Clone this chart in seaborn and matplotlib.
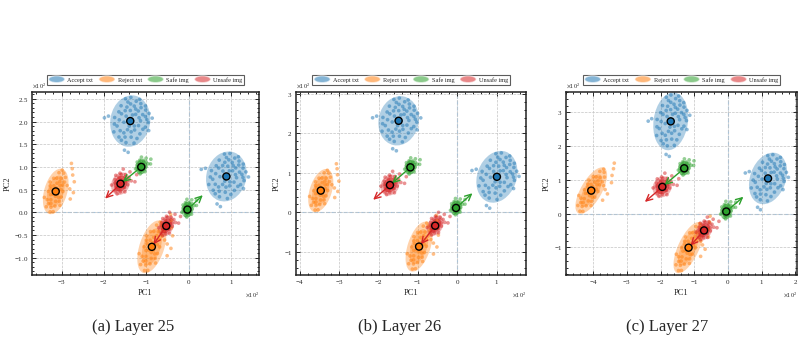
import numpy as np
import pandas as pd
import matplotlib
matplotlib.use("Agg")
import matplotlib.pyplot as plt
import seaborn as sns
from matplotlib.patches import Ellipse, Patch
from matplotlib.legend_handler import HandlerPatch
from matplotlib.transforms import Affine2D
from matplotlib.ticker import MultipleLocator, AutoMinorLocator, ScalarFormatter

# GROUPS / COLOURS
groups = ["Accept txt", "Reject txt", "Safe img", "Unsafe img"]
colors = {"Accept txt": "#1f77b4", "Reject txt": "#ff7f0e",
          "Safe img": "#2ca02c", "Unsafe img": "#d62728"}

# 8 clusters per layer: two of each group
cluster_group = ["Accept txt", "Accept txt", "Reject txt", "Reject txt",
                 "Safe img", "Unsafe img", "Safe img", "Unsafe img"]

captions = ["(a) Layer 25", "(b) Layer 26", "(c) Layer 27"]

# centroids (PC units, raw)
cent_x_25 = [-138, 89, -314, -87, -112, -161, -3, -53]
cent_y_25 = [201, 79, 46, -76, 100, 63, 6, -30]
cent_x_26 = [-149, 101, -347, -97, -119, -171, -3, -56]
cent_y_26 = [232, 90, 55, -87, 114, 69, 11, -34]
cent_x_27 = [-170, 119, -406, -117, -130, -195, -5, -71]
cent_y_27 = [273, 104, 68, -101, 134, 79, 6, -50]

# spread ellipses: width, height, angle
ell_w_25 = [94, 94, 54, 58, 28, 42, 28, 34]
ell_h_25 = [114, 112, 104, 122, 34, 52, 36, 50]
ell_a_25 = [-12, -20, -18, -20, -20, -30, -15, -30]
ell_w_26 = [102, 100, 56, 58, 30, 46, 30, 38]
ell_h_26 = [126, 135, 114, 132, 38, 56, 38, 56]
ell_a_26 = [-12, -20, -18, -18, -20, -30, -15, -30]
ell_w_27 = [102, 106, 62, 62, 36, 55, 36, 45]
ell_h_27 = [172, 158, 155, 165, 44, 65, 48, 65]
ell_a_27 = [-8, -20, -30, -25, -20, -30, -15, -30]

# steering arrows (start -> tip)
arrow_tip_25 = [(-202, 26), (38, 42)]
arrow_tip_26 = [(-219, 27), (44, 53)]
arrow_tip_27 = [(-253, 29), (52, 55)]

# axis limits
xlims = [(-370, 166), (-410, 175), (-481, 205)]
ylims = [(-138, 265), (-159, 305), (-182, 360)]
ysteps = [50, 100, 100]

# sample positions inside each cloud, in units of the ellipse semi-axes
accept_uv = [(-0.6, 0.5), (-0.3, 0.7), (0.1, 0.8), (0.4, 0.6), (0.7, 0.3), (0.5, 0.1),
             (0.2, 0.3), (-0.1, 0.4), (-0.5, 0.2), (-0.8, 0.0), (-0.6, -0.3), (-0.3, -0.1),
             (0.0, -0.2), (0.3, -0.3), (0.6, -0.4), (0.8, -0.1), (0.2, -0.6), (-0.2, -0.5),
             (-0.4, -0.7), (0.0, -0.85), (0.4, -0.8), (-0.7, -0.55), (0.85, 0.45), (-0.2, 0.9),
             (0.25, 0.9), (0.6, 0.7), (-0.45, 0.8), (0.1, 0.05), (-0.35, 0.35), (0.45, -0.1),
             (0.65, 0.55), (-0.1, -0.65), (0.3, 0.45), (-0.55, -0.05), (0.9, 0.1), (0.05, 0.6),
             (-0.25, 0.15), (0.15, -0.4), (0.55, 0.35), (-0.65, 0.25), (0.35, 0.75), (-0.15, 0.65),
             (0.7, -0.2), (-0.05, -0.35), (0.25, -0.15), (-0.4, -0.45), (0.5, -0.6), (-0.25, -0.8),
             (0.15, 0.5), (-0.75, -0.25), (0.8, 0.2), (0.05, 0.25), (-0.3, 0.5), (0.4, 0.2),
             (-1.3, -0.1), (-1.12, 0.0), (0.0, -1.15), (0.2, -1.2), (1.05, 0.3), (1.0, -0.2)]
reject_uv = [(0.0, 0.0), (0.2, 0.3), (-0.3, 0.2), (0.4, -0.2), (-0.2, -0.4), (0.1, 0.6),
             (-0.5, 0.5), (0.5, 0.5), (-0.6, -0.1), (0.6, 0.1), (0.0, -0.7), (0.3, -0.6),
             (-0.4, -0.75), (0.2, 0.85), (-0.2, 0.8), (0.7, -0.5), (-0.7, 0.3), (0.1, -0.2),
             (-0.1, 0.35), (0.35, 0.15), (-0.35, -0.2), (0.0, 0.95), (0.05, -0.9), (0.8, 0.4),
             (-0.8, -0.4), (0.45, 0.7), (-0.15, -0.15), (0.25, -0.4), (-0.45, 0.05), (0.6, -0.15),
             (0.15, 0.1), (-0.25, 0.55), (0.4, 0.35), (-0.5, -0.45), (0.3, -0.85), (-0.1, -0.55),
             (0.55, -0.35), (-0.6, 0.15), (0.1, 0.45), (-0.3, -0.6), (0.2, -0.1), (-0.05, 0.15),
             (1.0, 0.9), (0.8, 1.15), (1.3, 0.65), (1.5, 0.2), (1.4, -0.1), (0.6, 1.35),
             (1.1, 0.3)]
blob_uv = [(0.0, 0.0), (0.3, 0.2), (-0.3, 0.1), (0.2, -0.3), (-0.2, -0.4), (0.5, 0.5),
           (-0.5, 0.4), (0.6, -0.1), (-0.6, -0.2), (0.1, 0.7), (-0.1, -0.75), (0.4, -0.6),
           (-0.4, 0.7), (0.75, 0.25), (-0.75, 0.05), (0.2, 0.35), (-0.15, 0.3), (0.35, -0.1),
           (-0.3, -0.15), (0.1, -0.5), (0.85, -0.4), (-0.8, -0.5), (0.0, 0.9), (0.5, 0.85),
           (-0.6, 0.75), (0.9, 0.7), (0.2, -0.9), (-0.9, 0.4),
           (0.3, 1.3), (1.1, 1.4), (-0.5, 1.2), (1.3, 0.8)]

layers = [
    (cent_x_25, cent_y_25, ell_w_25, ell_h_25, ell_a_25, arrow_tip_25),
    (cent_x_26, cent_y_26, ell_w_26, ell_h_26, ell_a_26, arrow_tip_26),
    (cent_x_27, cent_y_27, ell_w_27, ell_h_27, ell_a_27, arrow_tip_27),
]


class HandlerEllipse(HandlerPatch):
    def create_artists(self, legend, orig_handle, xdescent, ydescent,
                       width, height, fontsize, trans):
        center = 0.5 * width - 0.5 * xdescent, 0.5 * height - 0.5 * ydescent
        p = Ellipse(xy=center, width=width + xdescent, height=height + ydescent)
        self.update_prop(p, orig_handle, legend)
        p.set_transform(trans)
        return [p]


sns.set_style("ticks")
plt.rcParams['font.family'] = ['Liberation Serif', 'DejaVu Serif']
plt.rcParams['mathtext.fontset'] = 'stix'
plt.rcParams['axes.unicode_minus'] = True

fig = plt.figure(figsize=(8.04, 3.45), dpi=100)
ax_lefts = [32 / 804, 296 / 804, 566 / 804]
ax_widths = [227 / 804, 230 / 804, 231 / 804]
cap_x = [133 / 804, 400 / 804, 667 / 804]

for i, (cx, cy, ew, eh, ea, tips) in enumerate(layers):
    ax = fig.add_axes([ax_lefts[i], 70 / 345, ax_widths[i], 183 / 345])

    # point clouds
    rows = []
    for k, g in enumerate(cluster_group):
        uv = accept_uv if g == "Accept txt" else reject_uv if g == "Reject txt" else blob_uv
        tr = Affine2D().scale(ew[k] / 2, eh[k] / 2).rotate_deg(ea[k]).translate(cx[k], cy[k])
        pts = tr.transform(np.array(uv, dtype=float))
        for px, py in pts:
            rows.append({"x": px, "y": py, "group": g})
        ax.add_patch(Ellipse((cx[k], cy[k]), ew[k], eh[k], angle=ea[k],
                             facecolor=colors[g], alpha=0.35, edgecolor="none", zorder=1))
        if g != "Accept txt":
            ax.add_patch(Ellipse((cx[k], cy[k]), ew[k] * 0.7, eh[k] * 0.7, angle=ea[k],
                                 facecolor=colors[g], alpha=0.35 if g == "Reject txt" else 0.6,
                                 edgecolor="none", zorder=1))
    pts_df = pd.DataFrame(rows)
    sns.scatterplot(data=pts_df, x="x", y="y", hue="group", palette=colors, s=7,
                    alpha=0.5, linewidth=0, legend=False, ax=ax, zorder=2)

    # arrows
    arr_kw = dict(lw=1.0, shrinkA=0, shrinkB=2)
    style = "->,head_length=0.45,head_width=0.22"
    ax.annotate("", xy=(cx[5], cy[5]), xytext=(cx[4], cy[4]),
                arrowprops=dict(arrowstyle=style, color=colors["Safe img"], **arr_kw), zorder=4)
    ax.annotate("", xy=tips[0], xytext=(cx[5], cy[5]),
                arrowprops=dict(arrowstyle=style, color=colors["Unsafe img"], **arr_kw), zorder=4)
    ax.annotate("", xy=tips[1], xytext=(cx[6], cy[6]),
                arrowprops=dict(arrowstyle=style, color=colors["Safe img"], **arr_kw), zorder=4)
    ax.annotate("", xy=(cx[3], cy[3]), xytext=(cx[7], cy[7]),
                arrowprops=dict(arrowstyle=style, color=colors["Unsafe img"], **arr_kw), zorder=4)

    # centroids
    sns.scatterplot(x=cx, y=cy, hue=cluster_group, palette=colors, s=26,
                    edgecolor="black", linewidth=1.0, legend=False, ax=ax, zorder=5)

    ax.axhline(0, color="#6a9ec9", ls="--", lw=0.8, alpha=0.6, zorder=0.5)
    ax.axvline(0, color="#6a9ec9", ls="--", lw=0.8, alpha=0.6, zorder=0.5)
    ax.grid(True, ls="--", color="#c4c4c4", lw=0.5, zorder=0)
    ax.set_axisbelow(True)

    ax.set_xlim(xlims[i])
    ax.set_ylim(ylims[i])
    ax.xaxis.set_major_locator(MultipleLocator(100))
    ax.yaxis.set_major_locator(MultipleLocator(ysteps[i]))
    ax.xaxis.set_minor_locator(AutoMinorLocator(5))
    ax.yaxis.set_minor_locator(AutoMinorLocator(5))
    for axis in (ax.xaxis, ax.yaxis):
        fmt = ScalarFormatter(useMathText=True)
        fmt.set_powerlimits((0, 0))
        axis.set_major_formatter(fmt)
        axis.get_offset_text().set_fontsize(4.5)
    ax.tick_params(which="both", direction="in", top=True, right=True,
                   labelsize=5, pad=2.5, width=0.7)
    ax.tick_params(which="major", length=3)
    ax.tick_params(which="minor", length=1.6)
    for sp in ax.spines.values():
        sp.set_linewidth(1.1)
        sp.set_color("#222222")
    ax.set_xlabel("PC1", fontsize=6, labelpad=2)
    ax.set_ylabel("PC2", fontsize=6, labelpad=2)

    handles = [Patch(facecolor=colors[g], alpha=0.55, label=g) for g in groups]
    leg = ax.legend(handles=handles, loc="lower center", bbox_to_anchor=(0.5, 1.04),
                    ncol=4, fontsize=4.5, frameon=True, fancybox=False,
                    handlelength=2.6, handleheight=1.1, columnspacing=0.9,
                    handletextpad=0.4, borderpad=0.3, borderaxespad=0,
                    handler_map={Patch: HandlerEllipse()})
    leg.get_frame().set_edgecolor("#333333")
    leg.get_frame().set_linewidth(0.8)

    fig.text(cap_x[i], 18 / 345, captions[i], ha="center", va="center",
             fontsize=12, family="Liberation Serif")

fig.savefig("out.png", dpi=100)
print("saved")
